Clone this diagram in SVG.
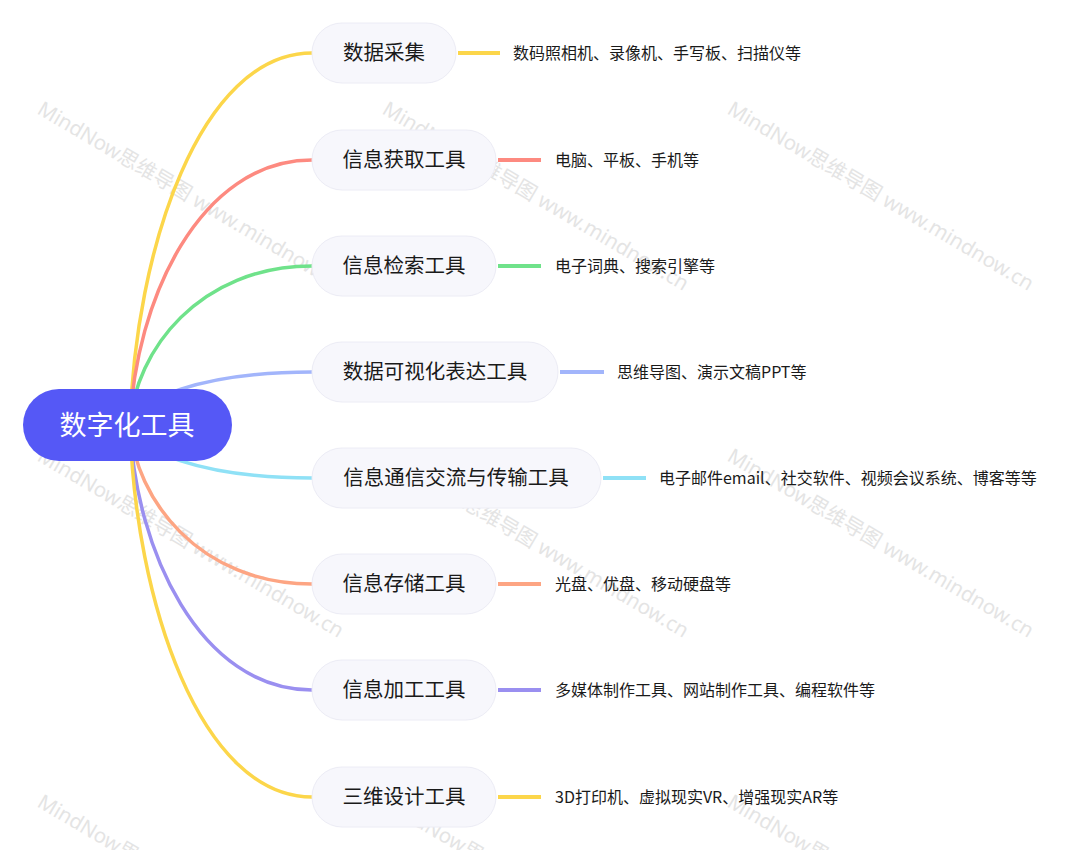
<svg xmlns="http://www.w3.org/2000/svg" width="1074" height="850" viewBox="0 0 1074 850">
<style>
.wm{font-family:"Noto Sans","Noto Sans CJK SC",sans-serif;font-size:20.5px;fill:#e4e4e4}
.c{fill:none;stroke-width:3.5;stroke-linecap:round}
.ln{fill:none;stroke-width:4}
.box{fill:#f7f7fc;stroke:#ececf5;stroke-width:1}
.t{font-family:"Microsoft YaHei","Noto Sans CJK SC",sans-serif;font-size:20.5px;fill:#1a1a1a;text-anchor:middle}
.leaf{font-family:"Microsoft YaHei","Noto Sans CJK SC",sans-serif;font-size:16px;fill:#1a1a1a}
.root{font-family:"Microsoft YaHei","Noto Sans CJK SC",sans-serif;font-size:27px;fill:#ffffff;text-anchor:middle}
</style>
<rect width="1074" height="850" fill="#ffffff"/>
<g id="watermarks">
<text class="wm" transform="translate(36,113) rotate(30.5)">MindNow思维导图 www.mindnow.cn</text>
<text class="wm" transform="translate(381,113) rotate(30.5)">MindNow思维导图 www.mindnow.cn</text>
<text class="wm" transform="translate(726,113) rotate(30.5)">MindNow思维导图 www.mindnow.cn</text>
<text class="wm" transform="translate(36,460) rotate(30.5)">MindNow思维导图 www.mindnow.cn</text>
<text class="wm" transform="translate(381,460) rotate(30.5)">MindNow思维导图 www.mindnow.cn</text>
<text class="wm" transform="translate(726,460) rotate(30.5)">MindNow思维导图 www.mindnow.cn</text>
<text class="wm" transform="translate(36,806) rotate(30.5)">MindNow思维导图 www.mindnow.cn</text>
<text class="wm" transform="translate(381,806) rotate(30.5)">MindNow思维导图 www.mindnow.cn</text>
<text class="wm" transform="translate(726,806) rotate(30.5)">MindNow思维导图 www.mindnow.cn</text>
</g>
<g id="connectors">
<path class="c" stroke="#fcd64a" d="M130,425 C135,250 200,53 312,53"/>
<path class="c" stroke="#fd8a80" d="M130,425 C135,300 200,160 312,160"/>
<path class="c" stroke="#6fe28a" d="M130,425 C135,350 200,266 312,266"/>
<path class="c" stroke="#a2b5fb" d="M130,425 C135,400 200,372 312,372"/>
<path class="c" stroke="#8fe1f6" d="M130,425 C135,450 200,478 312,478"/>
<path class="c" stroke="#fda583" d="M130,425 C135,500 200,584 312,584"/>
<path class="c" stroke="#9a8ff0" d="M130,425 C135,550 200,690 312,690"/>
<path class="c" stroke="#fcd64a" d="M130,425 C135,600 200,797 312,797"/>
<line class="ln" stroke="#fcd64a" x1="458" y1="53" x2="500" y2="53"/>
<line class="ln" stroke="#fd8a80" x1="498" y1="160" x2="541" y2="160"/>
<line class="ln" stroke="#6fe28a" x1="498" y1="266" x2="541" y2="266"/>
<line class="ln" stroke="#a2b5fb" x1="560" y1="372" x2="604" y2="372"/>
<line class="ln" stroke="#8fe1f6" x1="603" y1="478" x2="646" y2="478"/>
<line class="ln" stroke="#fda583" x1="498" y1="584" x2="541" y2="584"/>
<line class="ln" stroke="#9a8ff0" x1="498" y1="690" x2="541" y2="690"/>
<line class="ln" stroke="#fcd64a" x1="498" y1="797" x2="541" y2="797"/>
</g>
<g id="root">
<rect x="23" y="389" width="209" height="72" rx="36" fill="#5558f6"/>
<text class="root" x="127" y="435">数字化工具</text>
</g>
<g id="n1">
<rect class="box" x="312" y="23" width="144" height="60" rx="30"/>
<text class="t" x="384" y="60">数据采集</text>
<text class="leaf" x="513" y="59">数码照相机、录像机、手写板、扫描仪等</text>
</g>
<g id="n2">
<rect class="box" x="312" y="130" width="184" height="60" rx="30"/>
<text class="t" x="404" y="167">信息获取工具</text>
<text class="leaf" x="555" y="166">电脑、平板、手机等</text>
</g>
<g id="n3">
<rect class="box" x="312" y="236" width="184" height="60" rx="30"/>
<text class="t" x="404" y="273">信息检索工具</text>
<text class="leaf" x="555" y="272">电子词典、搜索引擎等</text>
</g>
<g id="n4">
<rect class="box" x="312" y="342" width="246" height="60" rx="30"/>
<text class="t" x="435" y="379">数据可视化表达工具</text>
<text class="leaf" x="617" y="378">思维导图、演示文稿PPT等</text>
</g>
<g id="n5">
<rect class="box" x="312" y="448" width="289" height="60" rx="30"/>
<text class="t" x="456" y="485">信息通信交流与传输工具</text>
<text class="leaf" x="659" y="484">电子邮件email、社交软件、视频会议系统、博客等等</text>
</g>
<g id="n6">
<rect class="box" x="312" y="554" width="184" height="60" rx="30"/>
<text class="t" x="404" y="591">信息存储工具</text>
<text class="leaf" x="555" y="590">光盘、优盘、移动硬盘等</text>
</g>
<g id="n7">
<rect class="box" x="312" y="660" width="184" height="60" rx="30"/>
<text class="t" x="404" y="697">信息加工工具</text>
<text class="leaf" x="555" y="696">多媒体制作工具、网站制作工具、编程软件等</text>
</g>
<g id="n8">
<rect class="box" x="312" y="767" width="184" height="60" rx="30"/>
<text class="t" x="404" y="804">三维设计工具</text>
<text class="leaf" x="555" y="803">3D打印机、虚拟现实VR、增强现实AR等</text>
</g>
</svg>
